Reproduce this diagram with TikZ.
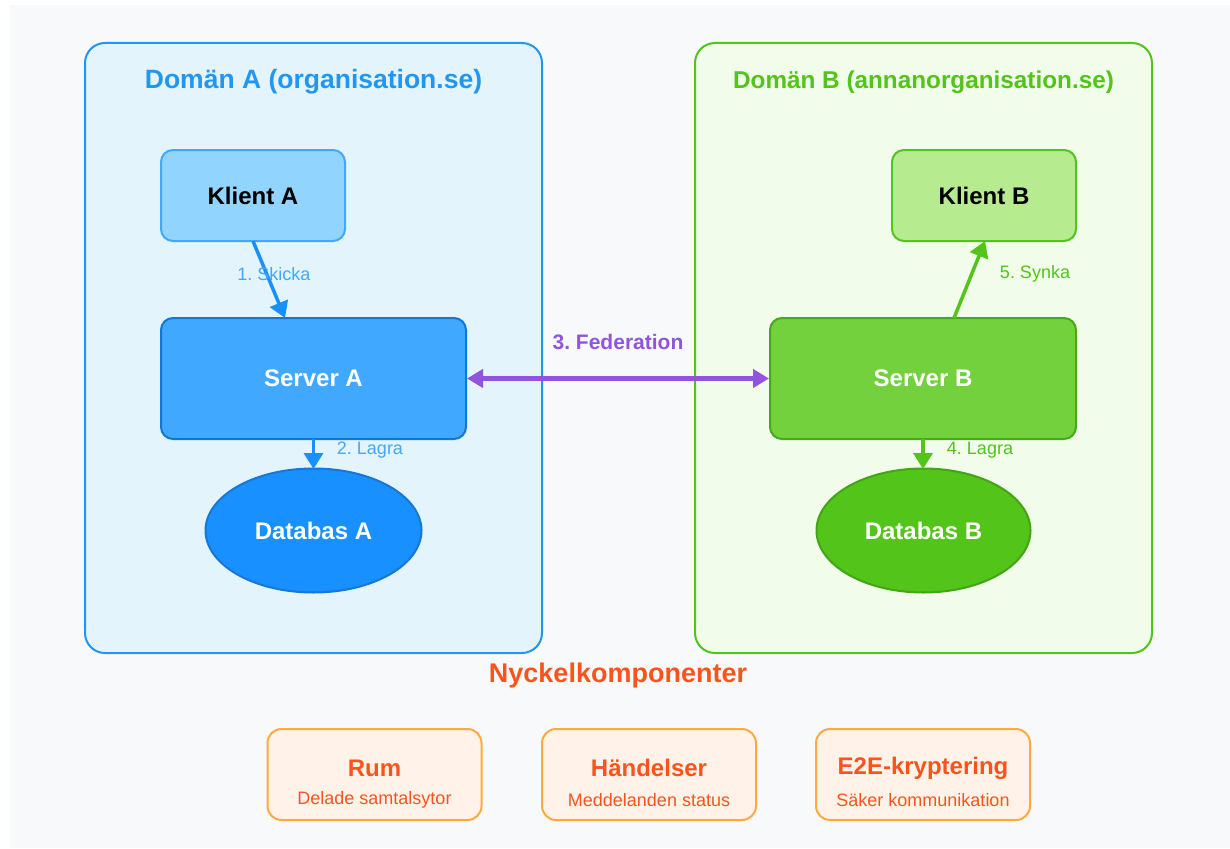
\documentclass[tikz,border=0pt]{standalone}
\usepackage{fontspec}
\setmainfont{Liberation Sans}
\usetikzlibrary{shapes.geometric,arrows.meta}
\frenchspacing
\definecolor{bgc}{HTML}{F8F9FA}
\definecolor{blueA}{HTML}{2196F3}
\definecolor{domAfill}{HTML}{E3F4FD}
\definecolor{greenB}{HTML}{52C41A}
\definecolor{domBfill}{HTML}{F2FCEA}
\definecolor{klientAfill}{HTML}{91D5FF}
\definecolor{klientAdraw}{HTML}{40A9FF}
\definecolor{serverAfill}{HTML}{40A9FF}
\definecolor{serverAdraw}{HTML}{1177D4}
\definecolor{dbAfill}{HTML}{1890FF}
\definecolor{dbAdraw}{HTML}{1677D8}
\definecolor{klientBfill}{HTML}{B7EB8F}
\definecolor{serverBfill}{HTML}{73D13D}
\definecolor{serverBdraw}{HTML}{47A81C}
\definecolor{dbBfill}{HTML}{52C41A}
\definecolor{dbBdraw}{HTML}{43A515}
\definecolor{fedc}{HTML}{9254DE}
\definecolor{orangeT}{HTML}{FA541C}
\definecolor{orangeD}{HTML}{FFA940}
\definecolor{orangeF}{HTML}{FFF2E8}
\tikzset{
  domainbox/.style={rounded corners=20pt, line width=2pt},
  boxnode/.style={rounded corners=12pt, line width=2pt, font=\bfseries\fontsize{24}{28}\selectfont, align=center},
  dbnode/.style={ellipse, line width=2pt, minimum width=216pt, minimum height=124pt, inner sep=0pt, text=white, font=\bfseries\fontsize{24}{28}\selectfont},
  steplbl/.style={font=\fontsize{18}{21}\selectfont},
  conn/.style={line width=3.5pt, -{Triangle[length=16pt,width=19pt]}},
  compbox/.style={rounded corners=14pt, line width=2pt, draw=orangeD, fill=orangeF, minimum width=214pt, minimum height=91pt, inner sep=0pt},
  comptitle/.style={text=orangeT, font=\bfseries\fontsize{24}{28}\selectfont},
  compsub/.style={text=orangeT, font=\fontsize{18}{21}\selectfont},
}
\begin{document}
\begin{tikzpicture}[x=1pt,y=-1pt]
\useasboundingbox (0,0) rectangle (1230,848);
\fill[white] (0,0) rectangle (1230,848);
\fill[bgc] (10,5) rectangle (1230,848);
% domains
\draw[domainbox, draw=blueA, fill=domAfill] (85,43) rectangle (542,653);
\draw[domainbox, draw=greenB, fill=domBfill] (695,43) rectangle (1152,653);
\node[text=blueA, font=\bfseries\fontsize{26.5}{30}\selectfont] (titleA) at (313.5,82) {Domän A (organisation.se)};
\node[text=greenB, font=\bfseries\fontsize{24.3}{28}\selectfont] (titleB) at (923.5,82) {Domän B (annanorganisation.se)};
% domain A nodes
\node[boxnode, draw=klientAdraw, fill=klientAfill, minimum width=184pt, minimum height=91pt, inner sep=0pt] (klientA) at (253,195.5) {Klient A};
\node[boxnode, draw=serverAdraw, fill=serverAfill, text=white, minimum width=305pt, minimum height=121pt, inner sep=0pt] (serverA) at (313.5,378.5) {Server A};
\node[dbnode, draw=dbAdraw, fill=dbAfill] (dbA) at (313.5,530.5) {Databas A};
% domain B nodes
\node[boxnode, draw=greenB, fill=klientBfill, minimum width=184pt, minimum height=91pt, inner sep=0pt] (klientB) at (984,195.5) {Klient B};
\node[boxnode, draw=serverBdraw, fill=serverBfill, text=white, minimum width=306pt, minimum height=121pt, inner sep=0pt] (serverB) at (923,378.5) {Server B};
\node[dbnode, draw=dbBdraw, fill=dbBfill, minimum width=214pt] (dbB) at (923.5,530.5) {Databas B};
% connectors
\coordinate (a1s) at (253,241);
\coordinate (a1e) at (285,318);
\draw[conn, draw=dbAfill, fill=dbAfill] (a1s) -- (a1e);
\node[steplbl, text=klientAdraw] (l1) at (274,274) {1. Skicka};
\coordinate (a2s) at (313.5,439);
\coordinate (a2e) at (313.5,469);
\draw[conn, draw=dbAfill, fill=dbAfill] (a2s) -- (a2e);
\node[steplbl, text=klientAdraw] (l2) at (370,450) {2. Lagra};
\draw[line width=4.5pt, draw=fedc, {Triangle[length=16pt,width=18pt]}-{Triangle[length=16pt,width=18pt]}] (serverA.east) -- (serverB.west);
\node[text=fedc, font=\bfseries\fontsize{21}{25}\selectfont] (l3) at (618,342) {3. Federation};
\coordinate (a4s) at (923,439);
\coordinate (a4e) at (923,469);
\draw[conn, draw=dbBfill, fill=dbBfill] (a4s) -- (a4e);
\node[steplbl, text=greenB] (l4) at (980,450) {4. Lagra};
\coordinate (a5s) at (954,318);
\coordinate (a5e) at (985,241);
\draw[conn, draw=dbBfill, fill=dbBfill] (a5s) -- (a5e);
\node[steplbl, text=greenB] (l5) at (1035,274) {5. Synka};
% key components
\node[text=orangeT, font=\bfseries\fontsize{27}{31}\selectfont] (keyt) at (618,676) {Nyckelkomponenter};
\node[compbox] (c1) at (374.5,774.5) {};
\node[comptitle] (c1t) at (374.5,768) {Rum};
\node[compsub] (c1s) at (374.5,800) {Delade samtalsytor};
\node[compbox] (c2) at (649,774.5) {};
\node[comptitle] (c2t) at (649,768) {Händelser};
\node[compsub] (c2s) at (649,800) {Meddelanden status};
\node[compbox] (c3) at (923,774.5) {};
\node[comptitle] (c3t) at (923,768) {E2E-kryptering};
\node[compsub] (c3s) at (923,800) {Säker kommunikation};
\end{tikzpicture}
\end{document}
